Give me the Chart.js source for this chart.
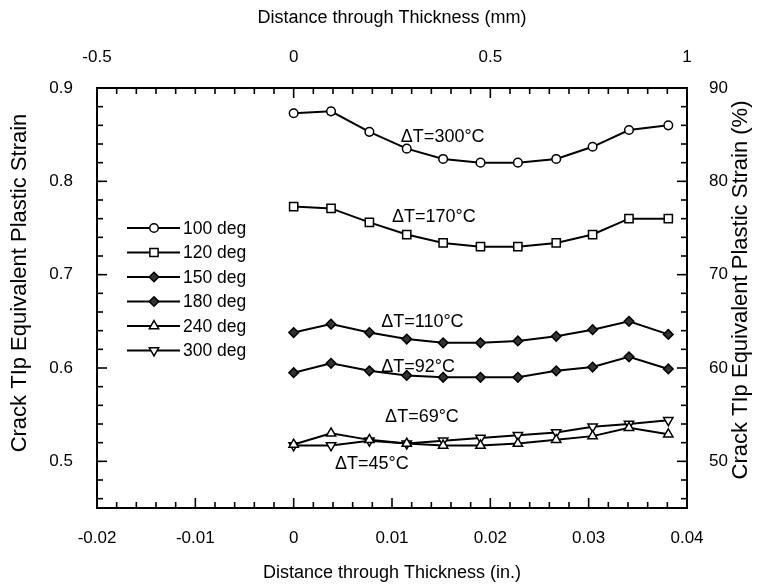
<!DOCTYPE html>
<html>
<head>
<meta charset="utf-8">
<script src="https://cdn.jsdelivr.net/npm/chart.js@4.4.0/dist/chart.umd.min.js"></script>
<style>
  html, body { margin: 0; padding: 0; background: #fff; }
</style>
</head>
<body>
<canvas id="chart" width="762" height="586"></canvas>
<script>
'use strict';

// distance through thickness (in.)
const xInch = [0, 0.0038, 0.0077, 0.0115, 0.0152, 0.0190, 0.0228, 0.0267, 0.0304, 0.0341, 0.0381];

// crack tip equivalent plastic strain
const strain100 = [0.873, 0.875, 0.853, 0.835, 0.824, 0.820, 0.820, 0.824, 0.837, 0.855, 0.860];
const strain120 = [0.773, 0.771, 0.756, 0.743, 0.734, 0.730, 0.730, 0.734, 0.743, 0.760, 0.760];
const strain150 = [0.638, 0.647, 0.638, 0.631, 0.627, 0.627, 0.629, 0.634, 0.641, 0.650, 0.636];
const strain180 = [0.595, 0.605, 0.597, 0.592, 0.590, 0.590, 0.590, 0.597, 0.601, 0.612, 0.599];
const strain240 = [0.518, 0.530, 0.523, 0.519, 0.517, 0.517, 0.519, 0.523, 0.527, 0.536, 0.529];
const strain300 = [0.517, 0.517, 0.522, 0.519, 0.522, 0.525, 0.528, 0.531, 0.537, 0.540, 0.544];

const seriesLabels = ['100 deg', '120 deg', '150 deg', '180 deg', '240 deg', '300 deg'];
const seriesValues = [strain100, strain120, strain150, strain180, strain240, strain300];

// tick labels
const xInchTicks = [-0.02, -0.01, 0, 0.01, 0.02, 0.03, 0.04];
const xMmTicks = [-0.5, 0, 0.5, 1];
const yLeftTicks = [0.5, 0.6, 0.7, 0.8, 0.9];
const yRightTicks = [50, 60, 70, 80, 90];

// ΔT notes, anchored in data units (left edge, middle)
const dtLabels = ['ΔT=300°C', 'ΔT=170°C', 'ΔT=110°C', 'ΔT=92°C', 'ΔT=69°C', 'ΔT=45°C'];
const dtX = [0.0109, 0.0100, 0.0089, 0.0089, 0.0093, 0.0042];
const dtY = [0.848, 0.762, 0.649, 0.601, 0.547, 0.497];

const FONT = "'Liberation Sans', Arial, sans-serif";
Chart.defaults.font.family = FONT;
Chart.defaults.color = '#000';

// marker look per series
const markers = [
  { pointStyle: 'circle',   radius: 4.3, rotation: 0,   fill: '#fff' },
  { pointStyle: 'rect',     radius: 5.8, rotation: 0,   fill: '#fff' },
  { pointStyle: 'rectRot',  radius: 4.8, rotation: 0,   fill: '#333' },
  { pointStyle: 'rectRot',  radius: 4.8, rotation: 0,   fill: '#333' },
  { pointStyle: 'triangle', radius: 5.4, rotation: 0,   fill: '#fff' },
  { pointStyle: 'triangle', radius: 5.4, rotation: 180, fill: '#fff' },
];

const fmt = v => String(Math.round(v * 1000) / 1000);

function fixTicks(list) {
  return function (scale) { scale.ticks = list.map(v => ({ value: v })); };
}

// inward tick marks, major and minor
const innerTicks = {
  id: 'innerTicks',
  beforeDatasetsDraw(chart) {
    const { ctx, chartArea: a, scales } = chart;
    ctx.save();
    ctx.strokeStyle = '#000';
    ctx.lineWidth = 1.6;
    const run = (scale, step, major, side) => {
      const k0 = Math.ceil(scale.min / step - 1e-6);
      const k1 = Math.floor(scale.max / step + 1e-6);
      for (let k = k0; k <= k1; k++) {
        const v = k * step;
        const isMajor = major.some(m => Math.abs(m - v) < step / 10);
        const len = isMajor ? 10 : 6;
        const p = scale.getPixelForValue(v);
        ctx.beginPath();
        if (side === 'left')   { ctx.moveTo(a.left, p);   ctx.lineTo(a.left + len, p); }
        if (side === 'right')  { ctx.moveTo(a.right, p);  ctx.lineTo(a.right - len, p); }
        if (side === 'bottom') { ctx.moveTo(p, a.bottom); ctx.lineTo(p, a.bottom - len); }
        if (side === 'top')    { ctx.moveTo(p, a.top);    ctx.lineTo(p, a.top + len); }
        ctx.stroke();
      }
    };
    run(scales.y, 0.02, yLeftTicks, 'left');
    run(scales.y2, 2, yRightTicks, 'right');
    run(scales.x, 0.002, xInchTicks, 'bottom');
    run(scales.x2, 0.05, xMmTicks, 'top');
    ctx.restore();
  }
};

function verticalTitle(ctx, text, x, y) {
  ctx.save();
  ctx.translate(x, y);
  ctx.rotate(-Math.PI / 2);
  ctx.fillText(text, 0, 0);
  ctx.restore();
}

// ΔT notes, legend and the two vertical axis titles
const extras = {
  id: 'extras',
  afterDraw(chart) {
    const { ctx, chartArea: a, scales } = chart;
    ctx.save();
    ctx.fillStyle = '#000';
    ctx.font = '18px ' + FONT;
    ctx.textAlign = 'left';
    ctx.textBaseline = 'middle';
    dtLabels.forEach((t, i) => {
      ctx.fillText(t, scales.x.getPixelForValue(dtX[i]), scales.y.getPixelForValue(dtY[i]));
    });

    // legend
    const lx = a.left + 30, ly = 228, row = 24.5;
    ctx.font = '17.5px ' + FONT;
    seriesLabels.forEach((t, i) => {
      const y = ly + i * row;
      ctx.strokeStyle = '#000';
      ctx.lineWidth = 2;
      ctx.beginPath();
      ctx.moveTo(lx, y);
      ctx.lineTo(lx + 53, y);
      ctx.stroke();
      const m = markers[i];
      ctx.fillStyle = m.fill;
      ctx.lineWidth = 1.5;
      Chart.helpers.drawPoint(ctx, { pointStyle: m.pointStyle, radius: m.radius, rotation: m.rotation, borderWidth: 1.5 }, lx + 27, y);
      ctx.fillStyle = '#000';
      ctx.fillText(t, lx + 56, y + 1);
    });

    // axis titles, reading bottom to top
    ctx.font = '22px ' + FONT;
    ctx.textAlign = 'center';
    verticalTitle(ctx, 'Crack TIp Equivalent Plastic Strain', 20, 283);
    verticalTitle(ctx, 'Crack TIp Equivalent Plastic Strain (%)', 741, 290);
    ctx.restore();
  }
};

const tickFont = { size: 17 };
const titleFont = { size: 18 };

new Chart(document.getElementById('chart'), {
  type: 'line',
  data: {
    datasets: seriesValues.map((vals, i) => ({
      label: seriesLabels[i],
      data: vals.map((v, j) => ({ x: xInch[j], y: v })),
      borderColor: '#000',
      borderWidth: 2,
      tension: 0,
      pointStyle: markers[i].pointStyle,
      pointRadius: markers[i].radius,
      pointRotation: markers[i].rotation,
      pointBackgroundColor: markers[i].fill,
      pointBorderColor: '#000',
      pointBorderWidth: 1.5,
      xAxisID: 'x',
      yAxisID: 'y',
    })),
  },
  options: {
    responsive: false,
    animation: false,
    layout: { padding: 0 },
    plugins: { legend: { display: false }, tooltip: { enabled: false } },
    scales: {
      x: {
        type: 'linear', position: 'bottom', min: -0.02, max: 0.04,
        grid: { display: false, drawTicks: false },
        border: { display: true, color: '#000', width: 2 },
        ticks: { padding: 20, font: tickFont, callback: fmt, maxRotation: 0 },
        afterBuildTicks: fixTicks(xInchTicks),
        afterFit: s => { s.height = 78; },
        title: { display: true, text: 'Distance through Thickness (in.)', font: titleFont, padding: { top: 0, bottom: 2 } },
      },
      x2: {
        type: 'linear', position: 'top', min: -0.5, max: 1,
        grid: { display: false, drawTicks: false },
        border: { display: true, color: '#000', width: 2 },
        ticks: { padding: 20, font: tickFont, callback: fmt, maxRotation: 0 },
        afterBuildTicks: fixTicks(xMmTicks),
        afterFit: s => { s.height = 88; },
        title: { display: true, text: 'Distance through Thickness (mm)', font: titleFont, padding: { top: 7, bottom: 0 } },
      },
      y: {
        type: 'linear', position: 'left', min: 0.45, max: 0.9,
        grid: { display: false, drawTicks: false },
        border: { display: true, color: '#000', width: 2 },
        ticks: { padding: 24, font: tickFont, callback: fmt },
        afterBuildTicks: fixTicks(yLeftTicks),
        afterFit: s => { s.width = 97; },
      },
      y2: {
        type: 'linear', position: 'right', min: 45, max: 90,
        grid: { display: false, drawTicks: false },
        border: { display: true, color: '#000', width: 2 },
        ticks: { padding: 22, font: tickFont, callback: fmt },
        afterBuildTicks: fixTicks(yRightTicks),
        afterFit: s => { s.width = 75; },
      },
    },
  },
  plugins: [innerTicks, extras],
});
</script>
</body>
</html>
